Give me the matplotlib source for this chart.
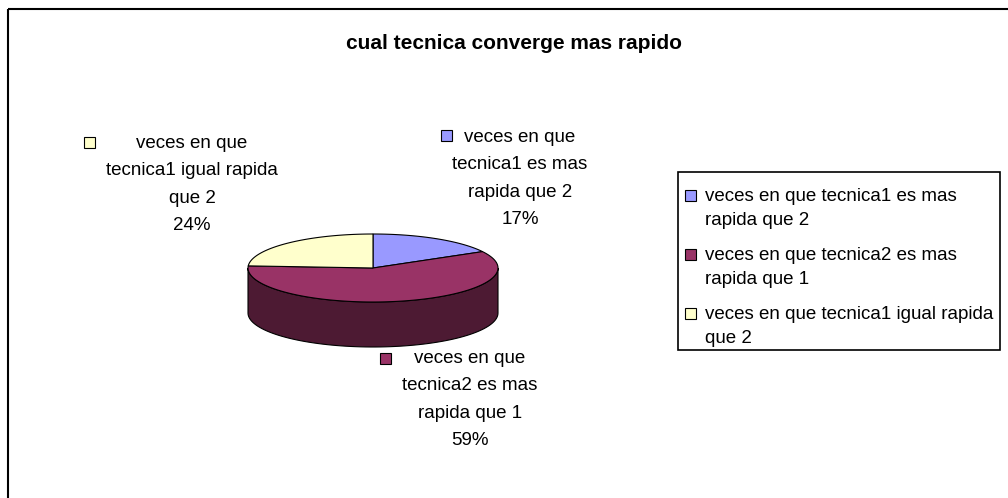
import numpy as np
import matplotlib.pyplot as plt
from matplotlib.patches import Polygon, Rectangle

plt.rcParams['font.family'] = ['Liberation Sans', 'DejaVu Sans']

# datos
titulo = 'cual tecnica converge mas rapido'
categorias = ['veces en que tecnica1 es mas rapida que 2',
              'veces en que tecnica2 es mas rapida que 1',
              'veces en que tecnica1 igual rapida que 2']
porcentajes = [17, 59, 24]
colores = ['#9999FF', '#993366', '#FFFFCC']
colores_lado = ['#4D4D80', '#4D1A33', '#80806A']

# etiquetas de datos (texto partido como en la imagen)
etiquetas = ['veces en que\ntecnica1 es mas\nrapida que 2',
             'veces en que\ntecnica2 es mas\nrapida que 1',
             'veces en que\ntecnica1 igual rapida\nque 2']
legend_labels = ['veces en que tecnica1 es mas\nrapida que 2',
                 'veces en que tecnica2 es mas\nrapida que 1',
                 'veces en que tecnica1 igual rapida\nque 2']

W, H = 1008, 498
fig = plt.figure(figsize=(W / 100, H / 100), dpi=100)
ax = fig.add_axes([0, 0, 1, 1])
ax.set_xlim(0, W)
ax.set_ylim(H, 0)
ax.axis('off')

# marco exterior
ax.add_patch(Rectangle((8, 9), W + 20, H + 20, fill=False, ec='black', lw=1.5, zorder=0))

ax.text(514, 43, titulo, ha='center', va='center', fontsize=15, fontweight='bold')

# pastel 3D
cx, cy, rx, ry, prof = 373, 268, 125, 34, 45


def punto(ang, dy=0):
    a = np.radians(ang)
    return cx + rx * np.cos(a), cy - ry * np.sin(a) + dy


fracs = np.array(porcentajes) / sum(porcentajes)
inicio = 90.0
angs = []
for f in fracs:
    fin = inicio - f * 360
    angs.append((inicio, fin))
    inicio = fin

# lados (parte frontal: 180..360)
for (a0, a1), cl in zip(angs, colores_lado):
    lo, hi = min(a0, a1), max(a0, a1)
    for off in (-360, 0, 360):
        s = max(lo + off, 180)
        e = min(hi + off, 360)
        if e > s:
            t = np.linspace(s, e, 80)
            top = [punto(a) for a in t]
            bot = [punto(a, prof) for a in t[::-1]]
            ax.add_patch(Polygon(top + bot, closed=True, fc=cl, ec='black', lw=0.8, zorder=2))

# cara superior
for (a0, a1), c in zip(angs, colores):
    t = np.linspace(a0, a1, 120)
    pts = [(cx, cy)] + [punto(a) for a in t]
    ax.add_patch(Polygon(pts, closed=True, fc=c, ec='black', lw=0.8, zorder=3))

# etiquetas de datos
pos_etq = [(520, 137), (470, 358), (192, 143)]
cuadros = [(441, 130), (380, 353), (84, 137)]
for (x, y), (qx, qy), txt, p, c in zip(pos_etq, cuadros, etiquetas, porcentajes, colores):
    lineas = txt.split('\n') + [f'{p}%']
    for i, l in enumerate(lineas):
        ax.text(x, y + i * 27.5, l, ha='center', va='center', fontsize=13.5)
    ax.add_patch(Rectangle((qx, qy), 11, 11, fc=c, ec='black', lw=0.8, zorder=4))

# leyenda
ax.add_patch(Rectangle((678, 172), 322, 178, fill=False, ec='black', lw=1.2, zorder=4))
for i, (lab, c) in enumerate(zip(legend_labels, colores)):
    y0 = 196 + i * 59
    ax.add_patch(Rectangle((685, y0 - 6), 11, 11, fc=c, ec='black', lw=0.8, zorder=5))
    for j, l in enumerate(lab.split('\n')):
        ax.text(705, y0 + j * 24, l, ha='left', va='center', fontsize=13.5)

fig.savefig('out.png', dpi=100)
